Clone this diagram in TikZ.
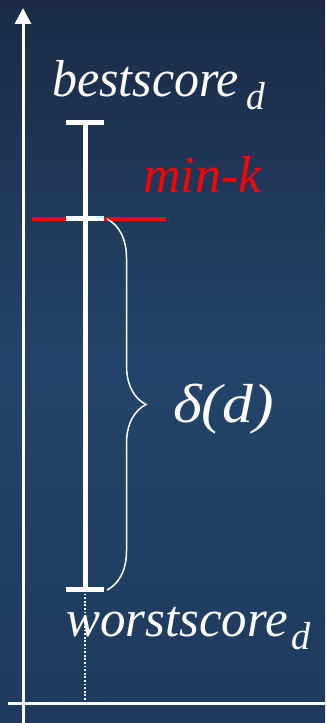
\documentclass[tikz,border=0pt]{standalone}
\usepackage{fontspec}
\setmainfont{Liberation Serif}
\usetikzlibrary{arrows.meta,decorations.pathreplacing}
\definecolor{bgtop}{HTML}{1B2B47}
\definecolor{bgmid}{HTML}{23446A}
\definecolor{bgbot}{HTML}{1F3A5E}
\newcommand{\subd}[1]{\kern#1\raisebox{-13pt}{\fontsize{39}{39}\selectfont d}}
\begin{document}
\begin{tikzpicture}[x=1pt,y=1pt,
    bigtxt/.style={text=white,font=\fontsize{52}{52}\selectfont\itshape,inner sep=0pt,anchor=base west},
    bar/.style={white,line width=5pt},
    axis/.style={white,line width=3pt}]
    \shade[top color=bgtop,bottom color=bgbot,middle color=bgmid] (0,0) rectangle (325,723);
    \useasboundingbox (0,0) rectangle (325,723);
    \coordinate (ybot) at (23,0); \coordinate (ytop) at (23,715);
    \coordinate (xl) at (8,19); \coordinate (xr) at (325,19);
    \coordinate (foot) at (85,19);
    \draw[axis,-{Triangle[length=16pt,width=16pt]}] (ybot)--(ytop);
    \draw[axis] (xl)--(xr);
    \coordinate (hi) at (85,600); \coordinate (lo) at (85,133); \coordinate (k) at (85,504);
    \coordinate (kl) at (32,504); \coordinate (kr) at (166,504);
    \draw[red,line width=3.5pt] (kl)--(kr);
    \draw[bar] (hi)--(lo);
    \draw[bar] ([xshift=-19pt]hi)--([xshift=19pt]hi);
    \draw[bar] ([xshift=-19pt]k)--([xshift=19pt]k);
    \draw[bar] ([xshift=-19pt]lo)--([xshift=19pt]lo);
    \draw[white,line width=1.3pt,dash pattern=on 1.8pt off 1.8pt] (lo)--(foot);
    \draw[white,line width=1.5pt,decorate,decoration={brace,amplitude=39pt}] ([xshift=22pt]k)--([xshift=22pt]lo);
    \node[bigtxt] (best) at (52,626) {\scalebox{0.96}[1]{bestscore\subd{8pt}}};
    \node[bigtxt,text=red] (mink) at (143,530) {min-k};
    \node[bigtxt] (delta) at (173,300) {\scalebox{1.12}[1]{\fontsize{55}{55}\selectfont δ(d)}};
    \node[bigtxt] (worst) at (66,86) {\scalebox{0.98}[1]{worstscore\subd{4pt}}};
\end{tikzpicture}
\end{document}
